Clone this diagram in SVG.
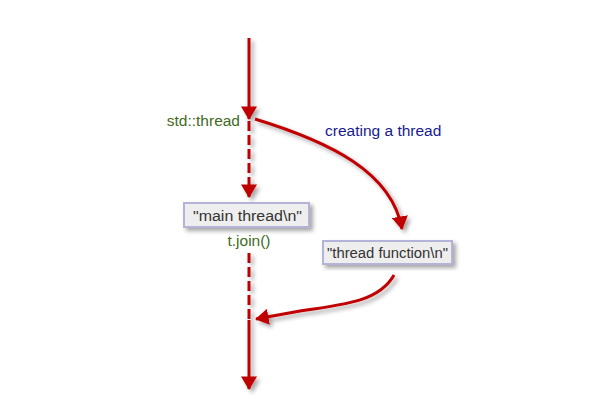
<svg xmlns="http://www.w3.org/2000/svg" width="614" height="407" viewBox="0 0 614 407">
<style>
.line{stroke:#c00000;stroke-width:3;fill:none}
.dash{stroke-dasharray:10 4}
.box{fill:#eeeeee;stroke:#b4b4d8;stroke-width:2}
.t{font-family:"Liberation Sans",Arial,sans-serif;font-size:15.5px}
.b{font-size:15.5px}
.green{fill:#3f6a1e}
.blue{fill:#1a1a90}
.dark{fill:#333333}
</style>
<defs>
<filter id="sh" x="-20%" y="-20%" width="150%" height="150%">
<feDropShadow dx="3" dy="3" stdDeviation="2" flood-color="#000" flood-opacity="0.35"/>
</filter>
<marker id="ah" markerWidth="4.6" markerHeight="5.4" refX="4.2" refY="2.7" orient="auto" markerUnits="strokeWidth">
<path d="M0,0 L4.5,2.7 L0,5.4 z" fill="#c00000"/>
</marker>
</defs>
<rect width="614" height="407" fill="#ffffff"/>
<g id="connectors" filter="url(#sh)">
<path class="line" d="M249,38 L249,119" marker-end="url(#ah)"/>
<path class="line dash" d="M249,121 L249,180"/>
<path class="line" d="M249,180 L249,197" marker-end="url(#ah)"/>
<path class="line dash" d="M249,253 L249,320"/>
<path class="line" d="M249,320 L249,389" marker-end="url(#ah)"/>
<path class="line" d="M255,119 C330,142 392,172 402,229" marker-end="url(#ah)"/>
<path class="line" d="M394,275 C380,300 350,304 300,311 L256,319" marker-end="url(#ah)"/>
</g>
<g id="main-thread">
<rect class="box" x="184" y="203" width="125" height="24" filter="url(#sh)"/>
<text class="t b dark" x="193" y="220.5" textLength="109" lengthAdjust="spacingAndGlyphs">"main thread\n"</text>
</g>
<g id="thread-function">
<rect class="box" x="323" y="241" width="129" height="23" filter="url(#sh)"/>
<text class="t b dark" x="327" y="258" textLength="121" lengthAdjust="spacingAndGlyphs">"thread function\n"</text>
</g>
<g id="labels">
<text class="t green" x="240" y="126" text-anchor="end">std::thread</text>
<text class="t green" x="249" y="246" text-anchor="middle">t.join()</text>
<text class="t blue" x="325" y="136">creating a thread</text>
</g>
</svg>
